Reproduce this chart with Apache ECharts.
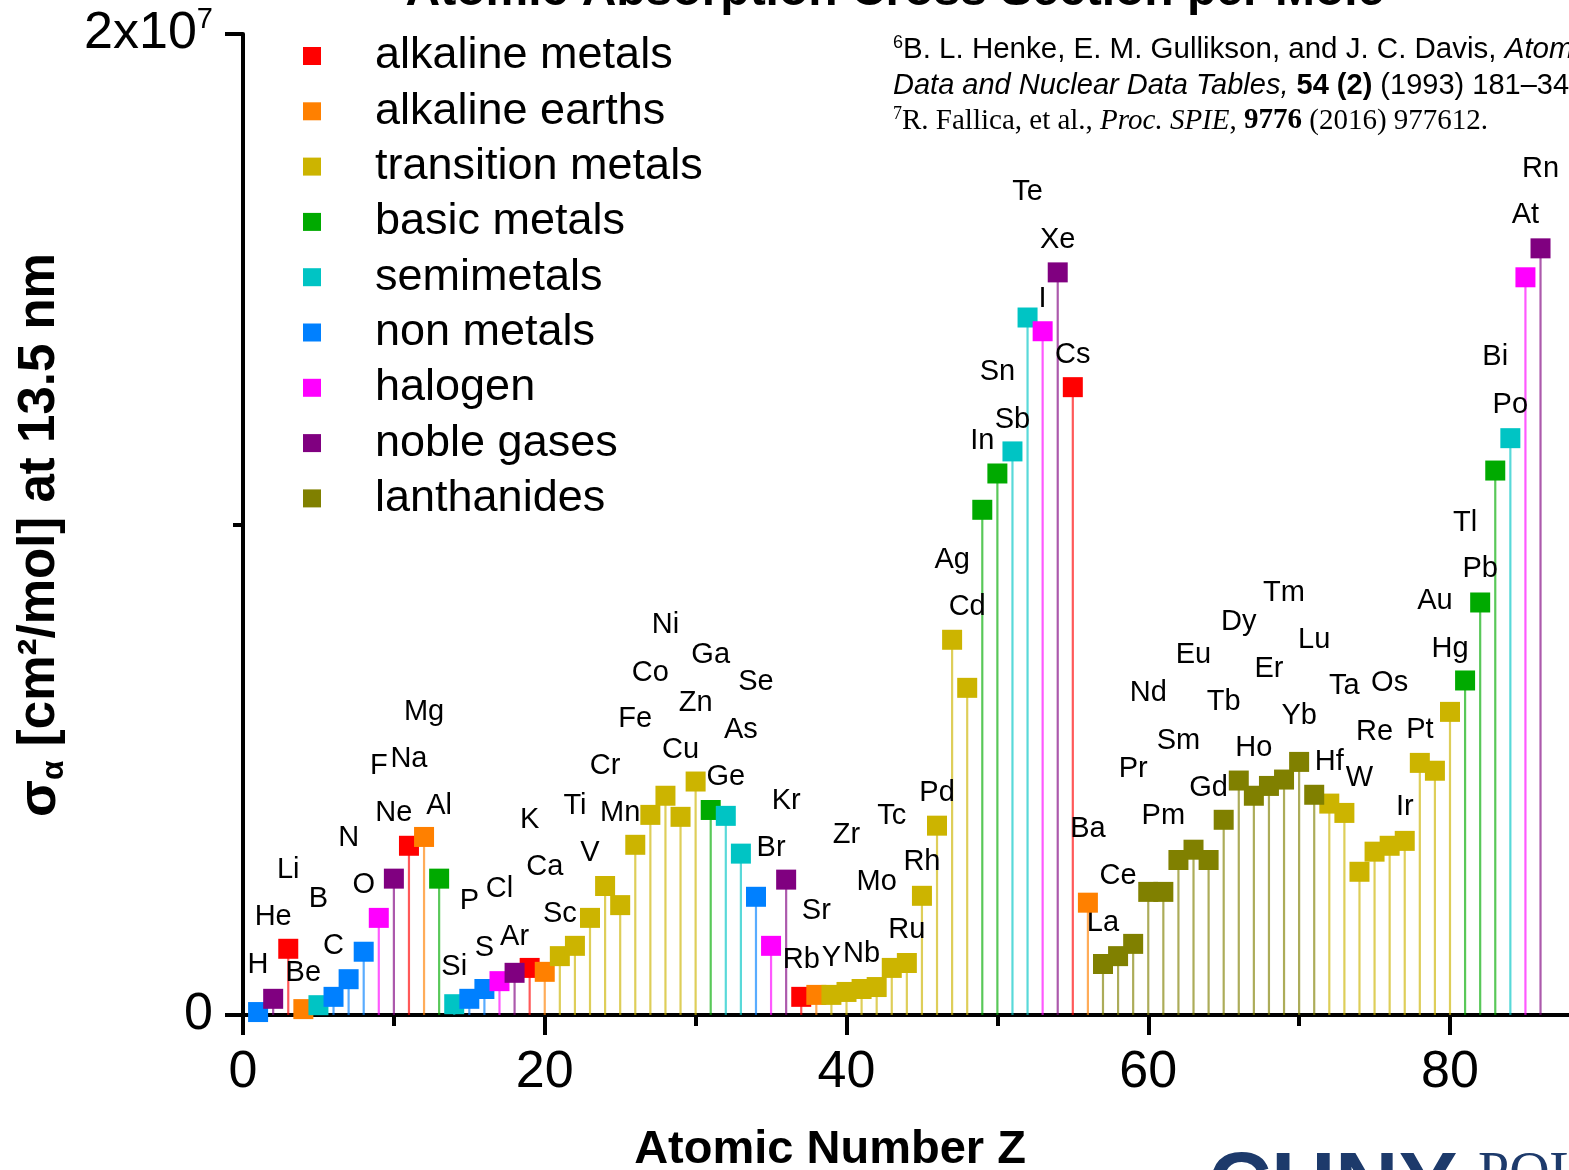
<!DOCTYPE html>
<html>
<head>
<meta charset="utf-8">
<script src="https://cdn.jsdelivr.net/npm/echarts@6/dist/echarts.min.js"></script>
<style>
html,body{margin:0;padding:0;background:#fff;}
#chart{width:1569px;height:1170px;}
</style>
</head>
<body>
<div id="chart"></div>
<script>
// ---- data ----
const groupNames = ['alkaline metals','alkaline earths','transition metals','basic metals','semimetals','non metals','halogen','noble gases','lanthanides'];
const groupColors = ['#FF0000','#FF8000','#CCB400','#00AA00','#00C4C4','#0080FF','#FF00FF','#800080','#808000'];

const elements = ['H','He','Li','Be','B','C','N','O','F','Ne',
  'Na','Mg','Al','Si','P','S','Cl','Ar','K','Ca',
  'Sc','Ti','V','Cr','Mn','Fe','Co','Ni','Cu','Zn',
  'Ga','Ge','As','Se','Br','Kr','Rb','Sr','Y','Zr',
  'Nb','Mo','Tc','Ru','Rh','Pd','Ag','Cd','In','Sn',
  'Sb','Te','I','Xe','Cs','Ba','La','Ce','Pr','Nd',
  'Pm','Sm','Eu','Gd','Tb','Dy','Ho','Er','Tm','Yb',
  'Lu','Hf','Ta','W','Re','Os','Ir','Pt','Au','Hg',
  'Tl','Pb','Bi','Po','At','Rn'];

// absorption cross section, units of 10^6 cm^2/mol
const sigma = [0.06,0.33,1.35,0.12,0.20,0.37,0.73,1.29,1.98,2.78,
  3.45,3.63,2.78,0.22,0.33,0.53,0.69,0.86,0.96,0.88,
  1.20,1.41,1.98,2.63,2.24,3.47,4.08,4.47,4.04,4.76,
  4.18,4.06,3.29,2.41,1.41,2.76,0.37,0.41,0.41,0.47,
  0.53,0.57,0.96,1.06,2.43,3.86,7.65,6.67,10.30,11.04,
  11.49,14.22,13.94,15.14,12.80,2.29,1.04,1.20,1.45,2.51,
  2.51,3.16,3.37,3.16,3.98,4.78,4.47,4.67,4.80,5.16,
  4.49,4.31,4.12,2.92,3.33,3.45,3.55,5.14,4.98,6.18,
  6.82,8.41,11.10,11.76,15.04,15.63];

// group index per element (index into groupNames)
const groupIndex = [5,7,0,1,4,5,5,5,6,7,
  0,1,3,4,5,5,6,7,0,1,
  2,2,2,2,2,2,2,2,2,2,
  3,4,4,5,6,7,0,1,2,2,
  2,2,2,2,2,2,2,2,3,3,
  4,4,6,7,0,1,8,8,8,8,
  8,8,8,8,8,8,8,8,8,8,
  8,2,2,2,2,2,2,2,2,2,
  3,3,3,4,6,7];

// height (same units) at which each element symbol is written
const labelHeight = [1.02,2.00,2.96,0.86,2.37,1.41,3.61,2.65,5.08,4.12,
  5.22,6.18,4.27,0.98,2.33,1.37,2.57,1.59,3.98,3.02,
  2.06,4.27,3.31,5.08,4.12,6.04,6.98,7.96,5.41,6.37,
  7.33,4.86,5.82,6.78,3.41,4.37,1.12,2.12,1.16,3.67,
  1.24,2.71,4.06,1.73,3.12,4.53,9.27,8.31,11.71,13.10,
  12.14,16.78,14.59,15.80,13.45,3.80,1.88,2.84,5.02,6.57,
  4.06,5.59,7.33,4.63,6.39,8.02,5.45,7.06,8.61,6.10,
  7.65,5.16,6.71,4.84,5.76,6.76,4.24,5.82,8.45,7.47,
  10.04,9.10,13.41,12.43,16.31,17.24];

// ---- chart ----
const FONT = 'Liberation Sans, Arial, sans-serif';
const SERIF = 'Liberation Serif, Times New Roman, serif';
const chart = echarts.init(document.getElementById('chart'), null, {renderer: 'canvas'});

const series = [];
series.push({
  type: 'custom',
  name: 'stems',
  silent: true,
  clip: false,
  z: 1,
  renderItem: function (params, api) {
    const z = api.value(0), v = api.value(1), g = api.value(2);
    const p0 = api.coord([z, 0]);
    const p1 = api.coord([z, v]);
    return {
      type: 'line',
      shape: {x1: p0[0], y1: p0[1], x2: p1[0], y2: p1[1]},
      style: {stroke: groupColors[g], lineWidth: 2.2, opacity: 0.65}
    };
  },
  data: elements.map((e, i) => [i + 1, sigma[i], groupIndex[i]])
});

groupNames.forEach((g, gi) => {
  const data = [];
  elements.forEach((e, i) => {
    if (groupIndex[i] === gi) data.push({name: e, value: [i + 1, sigma[i]]});
  });
  series.push({
    type: 'scatter',
    name: g,
    symbol: 'rect',
    symbolSize: 20,
    z: 3,
    itemStyle: {color: groupColors[gi], opacity: 1},
    emphasis: {disabled: true},
    data: data
  });
});

series.push({
  type: 'scatter',
  name: 'element labels',
  symbolSize: 1,
  silent: true,
  z: 2,
  itemStyle: {color: 'rgba(255,255,255,0)', opacity: 1},
  emphasis: {disabled: true},
  label: {
    show: true, position: 'inside', formatter: '{b}', opacity: 1,
    fontSize: 29, fontFamily: FONT, color: '#000', textBorderWidth: 0
  },
  data: elements.map((e, i) => ({name: e, value: [i + 1, labelHeight[i]]}))
});

const option = {
  animation: false,
  backgroundColor: '#fff',
  grid: {left: 243, top: 34, width: 90 * 15.0875, height: 981, containLabel: false, outerBoundsMode: 'none'},
  legend: {
    data: groupNames,
    orient: 'vertical',
    left: 303, top: 33, padding: 0,
    itemWidth: 18, itemHeight: 18, itemGap: 9.3,
    icon: 'rect',
    selectedMode: false,
    textStyle: {fontSize: 45, lineHeight: 46, color: '#000', fontFamily: FONT, padding: [0, 0, 0, 49]}
  },
  xAxis: {
    type: 'value', min: 0, max: 90, interval: 20,
    splitLine: {show: false},
    axisLine: {show: true, onZero: false, lineStyle: {color: '#000', width: 4}},
    axisTick: {show: true, length: 20, lineStyle: {color: '#000', width: 4}},
    minorTick: {show: true, splitNumber: 2, length: 11, lineStyle: {color: '#000', width: 4}},
    axisLabel: {fontSize: 52, color: '#000', fontFamily: FONT, margin: 32}
  },
  yAxis: {
    type: 'value', min: 0, max: 20, interval: 20,
    splitLine: {show: false},
    axisLine: {show: true, lineStyle: {color: '#000', width: 4}},
    axisTick: {show: true, length: 18, lineStyle: {color: '#000', width: 4}},
    minorTick: {show: true, splitNumber: 2, length: 10, lineStyle: {color: '#000', width: 4}},
    axisLabel: {
      fontSize: 52, color: '#000', fontFamily: FONT, margin: 30, lineHeight: 58,
      formatter: function (v) { return v === 0 ? '0' : (v / 10) + 'x10{sup|7}'; },
      rich: {sup: {fontSize: 29, lineHeight: 58, verticalAlign: 'top', color: '#000', fontFamily: FONT, padding: [0, 0, 18, 0]}}
    }
  },
  graphic: [
    {
      type: 'text', x: 895, y: -8, silent: true,
      style: {text: 'Atomic Absorption Cross Section per Mole', fontSize: 48, fontWeight: 'bold', fontFamily: FONT, fill: '#000', align: 'center', verticalAlign: 'middle'}
    },
    {
      type: 'text', x: 830, y: 1150, silent: true,
      style: {text: 'Atomic Number Z', fontSize: 47, fontWeight: 'bold', fontFamily: FONT, fill: '#000', align: 'center', verticalAlign: 'middle'}
    },
    {
      type: 'text', x: 40, y: 535, rotation: Math.PI / 2, silent: true,
      style: {
        text: '{s|σ}{a|α}{n| [cm²/mol] at 13.5 nm}',
        fontSize: 51, fontWeight: 'bold', fontFamily: FONT, fill: '#000',
        align: 'center', verticalAlign: 'middle',
        rich: {
          s: {fontSize: 54, fontWeight: 'bold', fontFamily: FONT, fill: '#000', lineHeight: 60},
          a: {fontSize: 32, fontWeight: 'bold', fontFamily: FONT, fill: '#000', lineHeight: 32, verticalAlign: 'bottom'},
          n: {fontSize: 51, fontWeight: 'bold', fontFamily: FONT, fill: '#000', lineHeight: 60}
        }
      }
    },
    {
      type: 'text', x: 893, y: 50, silent: true,
      style: {
        text: '{sup|6}{n|B. L. Henke, E. M. Gullikson, and J. C. Davis, }{i|Atomic}',
        fontSize: 29.5, fontFamily: FONT, fill: '#000', align: 'left', verticalAlign: 'middle',
        rich: {
          sup: {fontSize: 18, fontFamily: FONT, fill: '#000', lineHeight: 32, verticalAlign: 'top'},
          n: {fontSize: 29.5, fontFamily: FONT, fill: '#000', lineHeight: 32},
          i: {fontSize: 29.5, fontFamily: FONT, fontStyle: 'italic', fill: '#000', lineHeight: 32}
        }
      }
    },
    {
      type: 'text', x: 893, y: 86, silent: true,
      style: {
        text: '{i|Data and Nuclear Data Tables,}{b| 54 (2)}{n| (1993) 181–342.}',
        fontSize: 29, fontFamily: FONT, fill: '#000', align: 'left', verticalAlign: 'middle',
        rich: {
          i: {fontSize: 29, fontFamily: FONT, fontStyle: 'italic', fill: '#000', lineHeight: 32},
          b: {fontSize: 29, fontFamily: FONT, fontWeight: 'bold', fill: '#000', lineHeight: 32},
          n: {fontSize: 29, fontFamily: FONT, fill: '#000', lineHeight: 32}
        }
      }
    },
    {
      type: 'text', x: 893, y: 121, silent: true,
      style: {
        text: '{sup|7}{n|R. Fallica, et al., }{i|Proc. SPIE}{n|, }{b|9776}{n| (2016) 977612.}',
        fontSize: 29, fontFamily: SERIF, fill: '#000', align: 'left', verticalAlign: 'middle',
        rich: {
          sup: {fontSize: 18, fontFamily: SERIF, fill: '#000', lineHeight: 32, verticalAlign: 'top'},
          n: {fontSize: 29, fontFamily: SERIF, fill: '#000', lineHeight: 32},
          i: {fontSize: 29, fontFamily: SERIF, fontStyle: 'italic', fill: '#000', lineHeight: 32},
          b: {fontSize: 29, fontFamily: SERIF, fontWeight: 'bold', fill: '#000', lineHeight: 32}
        }
      }
    },
    {
      type: 'text', x: 1208, y: 1189, silent: true,
      style: {text: 'CUNY', fontSize: 88, fontWeight: 900, fontFamily: FONT, fill: '#1d3a6b', align: 'left', verticalAlign: 'middle'}
    },
    {
      type: 'text', x: 1478, y: 1176, silent: true,
      style: {text: 'POLY', fontSize: 56, fontFamily: SERIF, fill: '#1d3a6b', align: 'left', verticalAlign: 'middle'}
    }
  ],
  series: series
};

chart.setOption(option);
</script>
</body>
</html>
